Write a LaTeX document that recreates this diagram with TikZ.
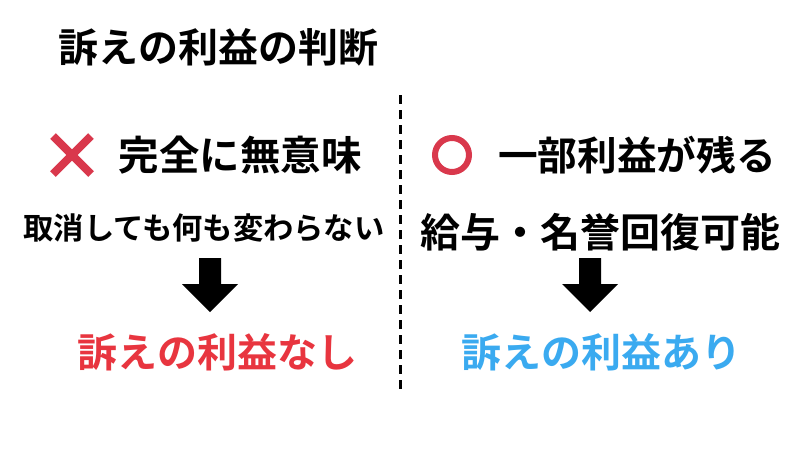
\documentclass[tikz,border=0pt]{standalone}
\usepackage{fontspec}
\newfontfamily\cjk{Noto Sans CJK JP}[BoldFont={* Bold}]
\definecolor{myred}{HTML}{E8353F}
\definecolor{xred}{HTML}{D9384C}
\definecolor{myblue}{HTML}{3AAAF0}
\begin{document}
\begin{tikzpicture}[x=1pt,y=-1pt,
  t/.style={inner sep=0pt,font=\cjk\bfseries},
  barrow/.style={fill=black}]
\useasboundingbox (0,0) rectangle (800,450);
\fill[white] (0,0) rectangle (800,450);
\node[t,font=\cjk\bfseries\fontsize{40}{40}\selectfont] (title) at (218,47) {訴えの利益の判断};
\draw[line width=3pt,dash pattern=on 9pt off 6pt] (400,95) -- (400,390);
% left
\node (xm) at (72,155) {};
\draw[xred,line width=8pt] (53,136) -- (91,174) (53,174) -- (91,136);
\node[t,font=\cjk\bfseries\fontsize{40.5}{40}\selectfont] (l1) at (240,155) {完全に無意味};
\node[t,font=\cjk\bfseries\fontsize{30.3}{30}\selectfont] (l2) at (204,228) {取消しても何も変わらない};
\node (la) at (210,285) {};
\fill (199,258) -- (221,258) -- (221,284) -- (238,284) -- (210,312) -- (182,284) -- (199,284) -- cycle;
\node[t,text=myred,font=\cjk\bfseries\fontsize{40}{40}\selectfont] (l3) at (217,352) {訴えの利益なし};
% right
\node (om) at (452,155) {};
\draw[xred,line width=6pt] (452,155) circle (17);
\node[t,font=\cjk\bfseries\fontsize{39.7}{40}\selectfont] (r1) at (637,155) {一部利益が残る};
\node[t,font=\cjk\bfseries\fontsize{40}{40}\selectfont] (r2) at (600,232) {給与・名誉回復可能};
\node (ra) at (590,285) {};
\fill (579,258) -- (601,258) -- (601,284) -- (618,284) -- (590,312) -- (562,284) -- (579,284) -- cycle;
\node[t,text=myblue,font=\cjk\bfseries\fontsize{40}{40}\selectfont] (r3) at (601,352) {訴えの利益あり};
\end{tikzpicture}
\end{document}
